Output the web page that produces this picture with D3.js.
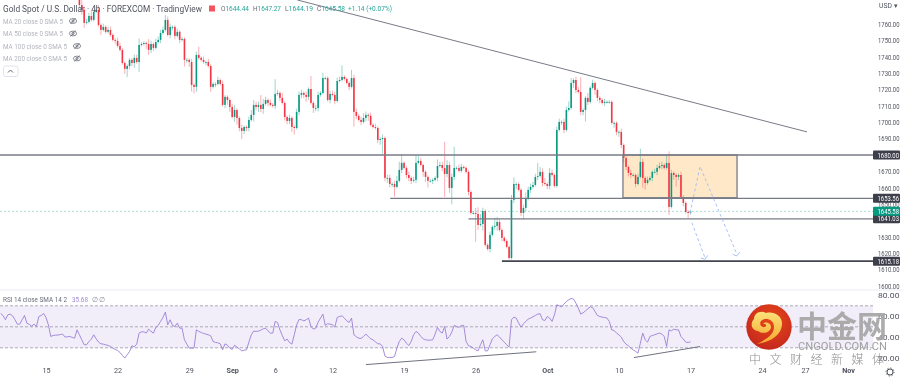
<!DOCTYPE html>
<html>
<head>
<meta charset="utf-8">
<script src="https://cdn.jsdelivr.net/npm/d3@7"></script>
<style>
  html, body { margin: 0; padding: 0; background: #fff; overflow: hidden; }
  text { font-family: Roboto, "Noto Sans", sans-serif; }
  svg { filter: blur(0.35px); }
</style>
</head>
<body>
<div id="chart"></div>
<script>
// candle data, 4h bars, bar index 32 is the first one in view
const firstBar = 32;
const firstOpen = 1786;
const closes = [
  1780.0,1771.6,1768.6,1760.7,1761.3,1764.9,1762.5,1767.4,1768.6,1759.4,
  1756.4,1758.2,1755.2,1756.4,1753.3,1750.3,1749.7,1746.6,1744.2,1736.2,
  1732.6,1734.4,1738.1,1736.2,1739.3,1736.8,1747.2,1747.8,1748.4,1747.8,
  1744.2,1747.8,1745.4,1749.0,1750.3,1754.5,1756.4,1762.5,1753.3,1758.2,
  1758.2,1752.7,1755.2,1750.3,1750.9,1738.1,1738.1,1736.8,1722.8,1721.6,
  1741.1,1739.3,1738.1,1736.8,1736.8,1734.4,1721.6,1723.4,1723.4,1725.8,
  1723.4,1710.6,1715.5,1713.6,1709.3,1703.2,1707.5,1702.6,1696.5,1694.7,
  1697.1,1696.5,1701.4,1704.5,1710.6,1709.3,1710.6,1708.1,1711.2,1713.6,
  1711.8,1710.6,1710.0,1717.3,1717.9,1714.9,1711.8,1703.2,1700.8,1702.6,
  1697.1,1696.5,1706.3,1716.7,1717.9,1716.7,1715.5,1720.3,1711.8,1708.7,
  1708.7,1716.7,1717.9,1727.0,1727.0,1713.6,1717.3,1716.7,1713.0,1725.2,
  1725.8,1727.7,1726.4,1724.0,1721.6,1727.0,1706.3,1703.9,1701.4,1700.2,
  1702.6,1704.5,1703.9,1698.4,1697.1,1696.5,1689.2,1689.8,1690.4,1666.0,
  1666.0,1662.3,1662.3,1660.5,1664.2,1670.9,1675.2,1672.1,1667.8,1666.0,
  1664.2,1664.8,1675.2,1676.4,1673.9,1669.7,1666.6,1664.2,1664.2,1664.8,
  1666.0,1673.3,1673.9,1672.1,1668.4,1673.9,1659.9,1666.6,1672.1,1672.1,
  1670.3,1672.7,1672.1,1669.7,1657.4,1644.6,1644.6,1644.0,1637.3,1637.9,
  1645.8,1625.1,1622.6,1631.2,1636.1,1636.7,1639.1,1634.2,1629.4,1627.5,
  1623.9,1617.1,1652.6,1662.3,1662.3,1658.7,1644.6,1647.7,1653.2,1658.7,
  1660.5,1661.7,1666.6,1667.2,1669.7,1662.9,1662.3,1661.1,1669.1,1667.8,
  1661.1,1695.3,1700.2,1700.2,1695.3,1707.5,1708.7,1724.0,1725.8,1719.7,
  1718.5,1706.3,1707.5,1714.9,1712.4,1721.0,1724.0,1719.7,1714.9,1713.6,
  1711.8,1712.4,1712.4,1712.4,1699.6,1699.6,1694.1,1694.1,1686.1,1678.2,
  1672.7,1669.0,1667.8,1667.8,1662.3,1666.6,1675.8,1666.0,1662.9,1664.8,
  1666.0,1669.7,1669.7,1672.1,1673.3,1673.9,1672.1,1675.2,1648.3,1669.0,
  1667.8,1666.6,1667.8,1654.4,1650.7,1645.2,1644.6,1645.58
];
// how far the wicks stick out of the body, in dollars
const wickUp = [
  6,8,4,2,2,2,3,1,2,3, 1,2,1,2,2,1,1,2,2,1, 1,1,1,1,2,2,4,1,1,1,
  3,2,1,2,2,2,2,3,2,2, 1,1,2,1,1,1,1,1,2,1, 2,5,1,2,1,2,1,1,1,2,
  1,2,1,1,1,2,3,1,1,2, 1,1,2,3,3,2,2,6,3,2, 1,2,1,9,2,1,3,1,1,2,
  1,1,2,2,2,1,2,1,8,1, 2,2,1,3,1,1,2,2,2,2, 2,7,1,1,1,5,2,2,1,2,
  3,2,1,2,1,2,1,1,2,1, 2,2,1,2,3,5,5,1,1,2, 1,2,5,3,2,1,1,1,1,1,
  1,4,2,2,16,3,2,2,13,1, 2,2,1,1,1,1,1,3,4,6, 2,1,1,2,1,5,3,2,1,1,
  1,1,3,4,1,1,1,2,4,2, 2,2,2,8,3,2,3,1,3,2, 1,2,2,1,2,2,4,3,1,2,
  2,9,1,1,3,1,2,1,1,1, 1,2,1,1,1,1,1,1,2,1, 1,1,2,1,1,2,8,2,1,2,
  1,1,2,2,2,2,1,5,7,2, 1,1,1,2,1,1,1,1
];
const wickDown = [
  2,2,3,3,1,1,1,1,1,1, 3,1,1,1,1,1,2,1,1,1, 3,5,2,2,3,1,6,1,1,3,
  3,2,2,1,1,2,1,1,1,2, 2,2,1,2,1,4,2,3,4,4, 3,1,1,1,2,1,3,1,2,1,
  1,1,2,3,3,1,3,4,2,5, 2,2,2,1,4,2,3,2,3,1, 2,1,1,2,1,2,1,2,2,2,
  3,4,1,2,2,2,3,2,1,3, 2,2,1,1,1,1,2,1,2,1, 1,1,1,1,2,1,9,2,1,2,
  1,2,3,1,1,1,2,3,9,2, 3,2,2,6,1,1,2,1,2,2, 2,1,2,1,1,3,3,4,1,2,
  1,2,1,2,14,2,3,10,2,1, 1,1,1,1,2,1,1,17,3,1, 4,1,1,2,1,2,3,1,2,1,
  1,1,1,2,3,1,2,4,2,1, 2,1,1,2,1,2,1,2,2,1, 1,1,1,2,2,1,1,1,3,2,
  1,2,2,7,2,1,1,3,2,2, 1,2,1,1,1,3,2,3,2,3, 2,2,2,1,2,1,1,6,4,1,
  1,2,1,2,1,2,1,1,5,1, 3,6,2,1,2,1,3,1
];
// rsi from bar 0
const rsiValues = [
  62.7,60.8,56.7,61.4,62.1,60.5,56.7,52.5,52.5,56.7,60.8,53.5,52.2,50.6,52.5,50.3,59.8,60.8,62.7,58.9,
  51.9,40.8,41.7,42.1,42.1,42.7,43,40.2,40.5,40.8,39.8,39.2,47.1,42.4,37.6,32.9,32.9,36,38.3,42.4,
  38.6,35.4,33.8,33.5,32.9,32.2,31.3,29.7,28.4,27.5,25.6,22.7,20.2,23.3,26.5,31.9,31,33.5,44,45.2,
  45.2,44,47.8,45.6,44,49.4,51.3,55.1,58.9,64,51.9,56.7,51.3,50.3,53.5,48.7,48.7,37.6,33.5,29.7,
  29.7,29.7,47.1,45.6,44.6,43.7,43,42.4,41.4,36,35.1,34.8,33.8,28.1,33.8,32.5,29.7,28.4,32.5,30.6,
  29,27.1,27.8,28.1,35.4,42.4,45.9,45.6,45.9,46.8,48.1,48.7,46.2,44,44,55.1,54.1,47.1,41.7,36.7,
  38.3,35.1,33.5,42.4,51.9,57,56.7,55.7,56.7,58.3,50.3,47.8,48.7,54.4,58.3,62.1,51.3,52.9,52.5,51.9,
  49.7,58.9,59.8,60.5,58.3,55.7,54.1,58.3,42.4,40.5,39.2,38.9,40.8,43,40.8,38.6,37.6,35.7,33.8,33.8,
  31.3,22.1,20.8,20.8,20.8,21.7,29.7,36,39.2,37.6,34.4,32.2,36,42.4,45.6,44,40.8,38.6,37.6,37.3,
  37.3,37.6,43,49.4,45.6,44,50.3,38.3,40.8,44.9,51.3,50.3,49.4,51.3,51.3,36,31.9,31.3,29.7,28.1,
  27.1,32.9,37.6,27.1,27.1,32.9,38.6,40.8,42.4,40.2,37.6,35.4,32.9,30.6,56.7,59.2,58.3,53.5,49.7,52.9,
  55.1,57.3,58.3,59.5,60.8,62.1,62.4,56.7,56,59.8,58.3,55.1,61.4,71,70,69,71.6,74.1,75.7,77,
  76.3,72.5,67.8,62.1,63.3,65.2,67.1,69,68.4,64.6,60.8,59.8,59.2,58.9,58.3,55.1,47.1,46.5,44,42.4,
  40.2,36,33.5,31.9,29.7,28.1,26.5,24.9,34.4,44,37.6,35.4,40.8,41.7,42.4,43.3,44,43,40.8,31.3,
  47.1,46.2,47.8,47.1,47.1,40.8,38.3,35.4,35.1,35.68
];

const priceTicks = [1760,1750,1740,1730,1720,1710,1700,1690,1670,1660,1650,1630,1620,1610,1600];
const rsiTicks = [80,60,40,20];
const rsiBands = [70,50,30];
const dateBars = [19,49,79,97,115,139,169,199,229,259,289,319,337,355];
const dateLabels = ["15","22","29","Sep","6","12","19","26","Oct","10","17","24","27","Nov"];

// drawings as [bar, price]
const levels = [
  { price: 1680, from: -1, w: 1.6, c: "#787b86", label: "1680.00" },
  { price: 1653.56, from: 163.2, w: 1.3, c: "#787b86", label: "1653.56" },
  { price: 1641.03, from: 196, w: 1.3, c: "#787b86", label: "1641.03" },
  { price: 1615.18, from: 210, w: 1.8, c: "#434651", label: "1615.18" }
];
const lastPrice = 1645.58;
const trendLine = [[124.2,1774.7],[337.8,1694.1]];
const boxBars = [260.7,308.5];
const boxPrices = [1680,1653.9];
const arrowA = [[288.8,1644.6],[293,1673],[308.4,1619.6]];
const arrowB = [[289.6,1638.6],[295,1617.5]];
const rsiLines = [
  [[153,14],[224.4,26.2]],
  [[265.3,20.7],[293,31.2]]
];

const width = 903, height = 378;
const paneRight = 873;

const x = d3.scaleLinear().domain([19,289]).range([46,690.5]);
const y = d3.scaleLinear().domain([1600,1760]).range([286,24]);
const yRsi = d3.scaleLinear().domain([20,80]).range([358.3,295.3]);

const svg = d3.select("#chart").append("svg")
  .attr("width", width).attr("height", height)
  .style("display", "block");

svg.append("defs").append("clipPath").attr("id", "mainClip")
  .append("rect").attr("x",0).attr("y",0).attr("width",paneRight).attr("height",289);

const main = svg.append("g").attr("clip-path", "url(#mainClip)");

// orange box under the candles
main.append("rect")
  .attr("x", x(boxBars[0])).attr("y", y(boxPrices[0]))
  .attr("width", x(boxBars[1]) - x(boxBars[0]))
  .attr("height", y(boxPrices[1]) - y(boxPrices[0]))
  .attr("fill", "#ffe8c8");

const candles = closes.map((c, i) => {
  const o = i === 0 ? firstOpen : closes[i - 1];
  return {
    bar: firstBar + i, o, c,
    h: Math.max(o, c) + wickUp[i],
    l: Math.min(o, c) - wickDown[i]
  };
});
const upCol = "#089981", downCol = "#f23645";

main.append("g").selectAll("line").data(candles).join("line")
  .attr("x1", d => x(d.bar)).attr("x2", d => x(d.bar))
  .attr("y1", d => y(d.h)).attr("y2", d => y(d.l))
  .attr("stroke", d => d.c >= d.o ? upCol : downCol)
  .attr("stroke-width", 0.8)
  .attr("opacity", 0.5);

main.append("g").selectAll("rect").data(candles).join("rect")
  .attr("x", d => x(d.bar) - 0.8)
  .attr("width", 1.6)
  .attr("y", d => y(Math.max(d.o, d.c)))
  .attr("height", d => Math.max(0.8, Math.abs(y(d.o) - y(d.c))))
  .attr("fill", d => d.c >= d.o ? upCol : downCol);

// box outline
main.append("rect")
  .attr("x", x(boxBars[0])).attr("y", y(boxPrices[0]))
  .attr("width", x(boxBars[1]) - x(boxBars[0]))
  .attr("height", y(boxPrices[1]) - y(boxPrices[0]))
  .attr("fill", "none").attr("stroke", "#787b86").attr("stroke-width", 1.3);

// horizontal levels
main.selectAll("line.level").data(levels).join("line")
  .attr("class", "level")
  .attr("x1", d => x(d.from)).attr("x2", paneRight)
  .attr("y1", d => y(d.price)).attr("y2", d => y(d.price))
  .attr("stroke", d => d.c).attr("stroke-width", d => d.w);

main.append("line")
  .attr("x1", 0).attr("x2", paneRight)
  .attr("y1", y(lastPrice)).attr("y2", y(lastPrice))
  .attr("stroke", "#089981").attr("stroke-opacity", 0.4)
  .attr("stroke-width", 0.8).attr("stroke-dasharray", "2 2");

const priceLine = d3.line().x(d => x(d[0])).y(d => y(d[1]));

main.append("path").attr("d", priceLine(trendLine))
  .attr("fill", "none").attr("stroke", "#787b86").attr("stroke-width", 1);

// projected path, dashed blue
[arrowA, arrowB].forEach(a => {
  main.append("path").attr("d", priceLine(a))
    .attr("fill", "none").attr("stroke", "#a9c1f5")
    .attr("stroke-width", 1).attr("stroke-dasharray", "3 2.5");
  const end = a[a.length - 1];
  const ex = x(end[0]), ey = y(end[1]);
  main.append("path")
    .attr("d", `M${ex - 4},${ey + 0.5}L${ex},${ey + 2}L${ex + 3},${ey - 2}`)
    .attr("fill", "none").attr("stroke", "#a9c1f5").attr("stroke-width", 1);
});

// pane separator
svg.append("line").attr("x1",0).attr("x2",width).attr("y1",290).attr("y2",290)
  .attr("stroke","#e9ebf0").attr("stroke-width",1);

// rsi pane
svg.append("rect")
  .attr("x", 0).attr("width", paneRight)
  .attr("y", yRsi(70)).attr("height", yRsi(30) - yRsi(70))
  .attr("fill", "#7e57c2").attr("fill-opacity", 0.1);

svg.append("g").selectAll("line").data(rsiBands).join("line")
  .attr("x1", 0).attr("x2", paneRight)
  .attr("y1", d => yRsi(d)).attr("y2", d => yRsi(d))
  .attr("stroke", "#9a95a5").attr("stroke-width", 0.8)
  .attr("stroke-dasharray", "3 2");

const rsiLine = d3.line().x((d, i) => x(i)).y(d => yRsi(d));
svg.append("path").datum(rsiValues).attr("d", rsiLine)
  .attr("fill", "none").attr("stroke", "#9b7fd6").attr("stroke-width", 0.9);

const rsiTrend = d3.line().x(d => x(d[0])).y(d => yRsi(d[1]));
svg.append("g").selectAll("path").data(rsiLines).join("path")
  .attr("d", rsiTrend).attr("fill", "none")
  .attr("stroke", "#6f7280").attr("stroke-width", 1);

// the reference text is narrower than the font, so squeeze it to the measured width
const squeeze = (sel, w) => sel.attr("textLength", w).attr("lengthAdjust", "spacingAndGlyphs");

// axes
const axisStyle = g => {
  g.select(".domain").remove();
  g.selectAll("line").remove();
  g.selectAll("text")
    .attr("fill", "#50535e").style("font-size", "7.2px");
};

svg.append("g").attr("transform", `translate(${paneRight + 5},0)`)
  .call(d3.axisRight(y).tickValues(priceTicks).tickSize(0).tickPadding(0).tickFormat(d3.format(".2f")))
  .call(axisStyle)
  .selectAll("text").call(squeeze, 21.5);

svg.append("g").attr("transform", `translate(${paneRight + 5},0)`)
  .call(d3.axisRight(yRsi).tickValues(rsiTicks).tickSize(0).tickPadding(0).tickFormat(d3.format(".2f")))
  .call(axisStyle)
  .selectAll("text").call(squeeze, 21.5);

svg.append("g").attr("transform", "translate(0,368)")
  .call(d3.axisBottom(x).tickValues(dateBars).tickSize(0).tickPadding(0)
    .tickFormat((d, i) => dateLabels[i]))
  .call(axisStyle)
  .selectAll("text")
  .style("font-weight", (d, i) => isNaN(+dateLabels[i]) ? "700" : "400");

// price labels on the axis
const labels = levels.map(d => ({ price: d.price, text: d.label, fill: "#3d3f4a" }))
  .concat([{ price: lastPrice, text: "1645.58", fill: "#089981" }]);
const lab = svg.append("g").selectAll("g").data(labels).join("g")
  .attr("transform", d => `translate(${paneRight},${y(d.price)})`);
lab.append("rect").attr("x", 0).attr("y", -4.5).attr("width", 27).attr("height", 9)
  .attr("rx", 1).attr("fill", d => d.fill);
lab.append("text").attr("x", 4.5).attr("y", 2.6).attr("fill", "#fff")
  .style("font-size", "7.2px").text(d => d.text).call(squeeze, 21.5);

svg.append("text").attr("x", 879).attr("y", 8).attr("fill", "#50535e")
  .style("font-size", "6.8px").text("USD ▾");

// legend
svg.append("text").attr("x", 3).attr("y", 11.5).attr("fill", "#50535e")
  .style("font-size", "8.6px")
  .text("Gold Spot / U.S. Dollar · 4h · FOREXCOM · TradingView")
  .call(squeeze, 199);
svg.append("rect").attr("x", 209).attr("y", 5.5).attr("width", 6).attr("height", 6)
  .attr("fill", "#f7525f");

const ohlc = [["O","1644.44",221],["H","1647.27",253],["L","1644.19",285],["C","1645.58",317]];
const ohlcText = svg.append("g").selectAll("text").data(ohlc).join("text")
  .attr("x", d => d[2]).attr("y", 11).style("font-size", "7.2px").call(squeeze, 28);
ohlcText.append("tspan").attr("fill", "#6a6d78").text(d => d[0]);
ohlcText.append("tspan").attr("fill", "#26a69a").text(d => d[1]);
svg.append("text").attr("x", 348).attr("y", 11).attr("fill", "#26a69a")
  .style("font-size", "7.2px").text("+1.14 (+0.07%)").call(squeeze, 44);

const maLabels = ["MA 20 close 0 SMA 5","MA 50 close 0 SMA 5","MA 100 close 0 SMA 5","MA 200 close 0 SMA 5"];
const maWidths = [60,60,64,64];
const maY = d3.scalePoint().domain(maLabels).range([21,58.5]);
const maRow = svg.append("g").selectAll("g").data(maLabels).join("g")
  .attr("transform", d => `translate(0,${maY(d)})`);
maRow.append("text").attr("x", 3).attr("y", 2.5).attr("fill", "#b2b5be")
  .style("font-size", "7.2px").text(d => d)
  .attr("textLength", (d, i) => maWidths[i]).attr("lengthAdjust", "spacingAndGlyphs");
const eyeX = [73,73,77,77];
const eye = maRow.append("g").attr("transform", (d, i) => `translate(${eyeX[i]},0)`)
  .attr("fill", "none").attr("stroke", "#6a6d78").attr("stroke-width", 0.8);
eye.append("ellipse").attr("rx", 3.6).attr("ry", 2.4);
eye.append("circle").attr("r", 1.1);
eye.append("line").attr("x1", -2.5).attr("y1", 3).attr("x2", 2.5).attr("y2", -3);

svg.append("rect").attr("x", 3.5).attr("y", 66).attr("width", 14.5).attr("height", 10.5)
  .attr("rx", 2).attr("fill", "#fff").attr("stroke", "#e0e3eb");
svg.append("path").attr("d", "M8,72.5L10.5,70L13,72.5")
  .attr("fill", "none").attr("stroke", "#50535e").attr("stroke-width", 0.9);

// rsi legend
svg.append("text").attr("x", 3).attr("y", 302).attr("fill", "#6a6d78")
  .style("font-size", "7.2px").text("RSI 14 close SMA 14 2").call(squeeze, 64);
svg.append("text").attr("x", 72).attr("y", 302).attr("fill", "#a48bdc")
  .style("font-size", "7.2px").text("35.68").call(squeeze, 16);
svg.append("text").attr("x", 92).attr("y", 302).attr("fill", "#8a8d98")
  .style("font-size", "7.2px").text("∅");
svg.append("text").attr("x", 99).attr("y", 302).attr("fill", "#8a8d98")
  .style("font-size", "7.2px").text("∅");

// gear
const gear = svg.append("g").attr("transform", "translate(890,372)")
  .attr("fill", "none").attr("stroke", "#50535e");
gear.append("circle").attr("r", 3).attr("stroke-width", 1);
gear.append("circle").attr("r", 4).attr("stroke-width", 0.9).attr("stroke-dasharray", "1.4 1.7");

// watermark
const grad = svg.append("defs").append("radialGradient").attr("id", "logoGrad")
  .attr("cx", "55%").attr("cy", "35%").attr("r", "70%");
grad.append("stop").attr("offset", "0%").attr("stop-color", "#e8481a");
grad.append("stop").attr("offset", "100%").attr("stop-color", "#c3261c");
const swirl = svg.append("defs").append("linearGradient").attr("id", "swirlGrad")
  .attr("x1", "0").attr("y1", "0").attr("x2", "0").attr("y2", "1");
swirl.append("stop").attr("offset", "0%").attr("stop-color", "#fbe27a");
swirl.append("stop").attr("offset", "100%").attr("stop-color", "#f6a72c");

const logo = svg.append("g").attr("transform", "translate(769,327)");
logo.append("circle").attr("r", 22.7).attr("fill", "url(#logoGrad)");
logo.append("path")
  .attr("d", "M-12,17 C2,15 12,8 13,-2 C14,-11 5,-16 -3,-14 C-8,-17 -15,-14 -15,-8 C-19,-4 -18,3 -11,4 C-6,8 2,5 2,0 C2,-4 -4,-6 -6,-3 C-3,-4 -2,-1 -4,0 C-8,1 -10,-3 -8,-6 C-4,-10 5,-8 5,0 C5,9 -5,13 -12,17 Z")
  .attr("fill", "url(#swirlGrad)");

svg.append("text").attr("x", 797).attr("y", 337)
  .attr("fill", "#a8a8a8").attr("fill-opacity", 0.95)
  .style("font-family", '"Noto Sans CJK SC"').style("font-weight", 700)
  .style("font-size", "30px").text("中金网");
svg.append("text").attr("x", 798).attr("y", 350)
  .attr("fill", "#a0a0a0").style("font-size", "10px")
  .text("CNGOLD.COM.CN").call(squeeze, 89);
const cnSub = ["中","文","财","经","新","媒","体"];
const subX = d3.scalePoint().domain(cnSub).range([755,878]);
svg.append("g").selectAll("text").data(cnSub).join("text")
  .attr("x", d => subX(d)).attr("y", 364).attr("text-anchor", "middle")
  .attr("fill", "#8e8e8e")
  .style("font-family", '"Noto Sans CJK SC"').style("font-weight", 300)
  .style("font-size", "12px").text(d => d);
</script>
</body>
</html>
